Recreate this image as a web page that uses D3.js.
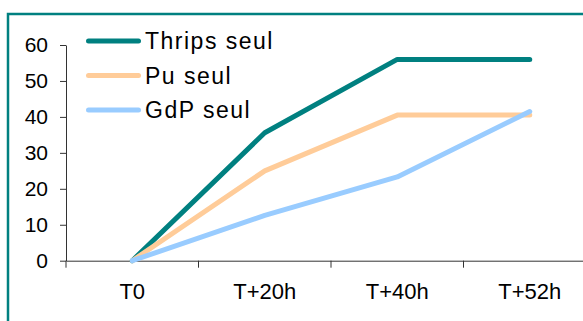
<!DOCTYPE html>
<html>
<head>
<meta charset="utf-8">
<script src="https://cdn.jsdelivr.net/npm/d3@7"></script>
<style>
  body { margin: 0; background: #fff; }
  svg { display: block; font-family: "Liberation Sans", Arial, sans-serif; }
</style>
</head>
<body>
<svg id="chart"></svg>
<script>
// Data
const categories = ["T0", "T+20h", "T+40h", "T+52h"];
const seriesNames = ["Thrips seul", "Pu seul", "GdP seul"];
const thrips = [0, 35.6, 56, 56];
const pu = [0, 25, 40.5, 40.5];
const gdp = [0, 12.6, 23.3, 41.5];
const yTicks = [0, 10, 20, 30, 40, 50, 60];

const colors = ["#008080", "#FFCC99", "#99CCFF"];
const allSeries = [thrips, pu, gdp];

const width = 583, height = 321;
const font = "'Liberation Sans', Arial, sans-serif";

const svg = d3.select("#chart")
    .attr("width", width)
    .attr("height", height);

// Teal frame (runs off the right and bottom edges)
svg.append("rect")
    .attr("x", 8)
    .attr("y", 14)
    .attr("width", 620)
    .attr("height", 340)
    .attr("fill", "none")
    .attr("stroke", "#008080")
    .attr("stroke-width", 2.5);

// Scales
const x = d3.scaleBand()
    .domain(categories)
    .range([66, 596]);

const y = d3.scaleLinear()
    .domain([0, 60])
    .range([260.7, 45]);

// Y axis
const yAxis = svg.append("g")
    .attr("transform", "translate(66,0)")
    .call(d3.axisLeft(y).tickValues(yTicks).tickSize(6).tickPadding(12).tickSizeOuter(0))
    .attr("font-family", font)
    .attr("font-size", 21);
yAxis.select(".domain").attr("stroke", "#333");
yAxis.selectAll(".tick line").attr("stroke", "#333");
yAxis.selectAll("text").attr("fill", "#000");

// X axis: labels centred in bands, ticks at band boundaries
const xAxis = svg.append("g")
    .attr("transform", `translate(0,${y(0)})`)
    .call(d3.axisBottom(x).tickSize(0).tickPadding(23).tickSizeOuter(0))
    .attr("font-family", font)
    .attr("font-size", 22);
xAxis.select(".domain").attr("stroke", "#333");
xAxis.selectAll("text").attr("fill", "#000");

const boundaries = categories.map(c => x(c)).concat([x.range()[1]]);
xAxis.selectAll(".bound")
    .data(boundaries)
    .enter()
    .append("line")
    .attr("class", "bound")
    .attr("x1", d => d)
    .attr("x2", d => d)
    .attr("y1", 0)
    .attr("y2", 7)
    .attr("stroke", "#333");

// Lines
const line = d3.line()
    .x((d, i) => x(categories[i]) + x.bandwidth() / 2)
    .y(d => y(d));

svg.selectAll(".series")
    .data(allSeries)
    .enter()
    .append("path")
    .attr("class", "series")
    .attr("d", d => line(d))
    .attr("fill", "none")
    .attr("stroke", (d, i) => colors[i])
    .attr("stroke-width", 5)
    .attr("stroke-linejoin", "round")
    .attr("stroke-linecap", "round");

// Legend
const legend = svg.append("g");
const legendY = [41, 75.5, 110];

legend.selectAll("line")
    .data(seriesNames)
    .enter()
    .append("line")
    .attr("x1", 88.5)
    .attr("x2", 138.5)
    .attr("y1", (d, i) => legendY[i])
    .attr("y2", (d, i) => legendY[i])
    .attr("stroke", (d, i) => colors[i])
    .attr("stroke-width", 5)
    .attr("stroke-linecap", "round");

legend.selectAll("text")
    .data(seriesNames)
    .enter()
    .append("text")
    .attr("x", 145)
    .attr("y", (d, i) => legendY[i] + 8)
    .attr("font-family", font)
    .style("font-size", "23px")
    .style("letter-spacing", "1.5px")
    .attr("fill", "#000")
    .text(d => d);
</script>
</body>
</html>
